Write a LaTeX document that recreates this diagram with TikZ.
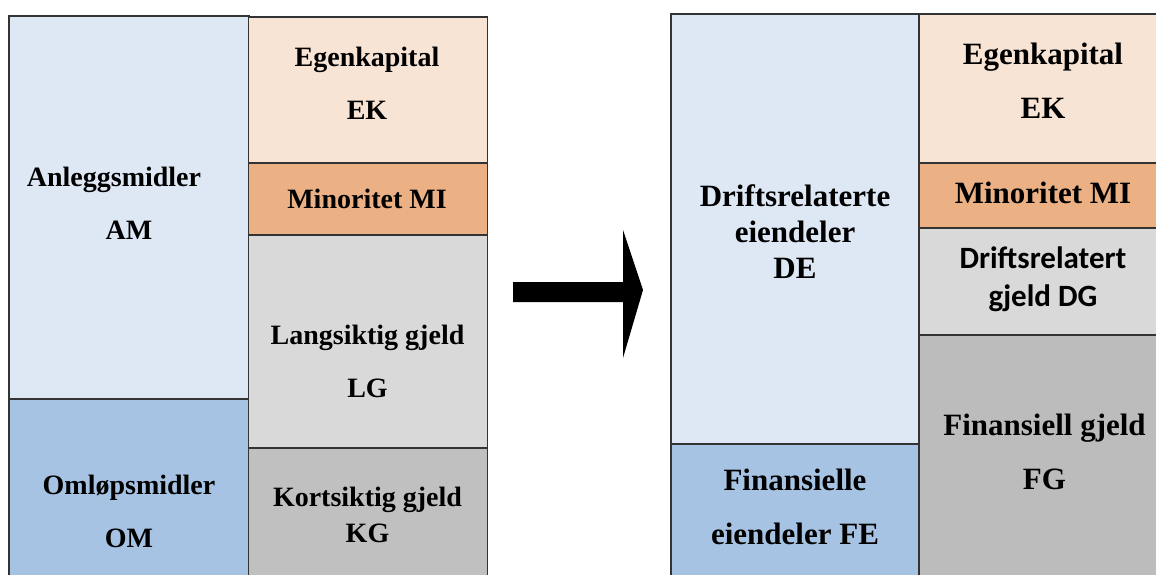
\documentclass[tikz,border=0pt]{standalone}
\usepackage{fontspec}
\setmainfont{Liberation Serif}
\newfontfamily\calibfont{Carlito}
\usetikzlibrary{positioning}
\definecolor{amblue}{HTML}{DEE7F4}
\definecolor{omblue}{HTML}{A6C3E3}
\definecolor{ekpeach}{HTML}{F8E4D5}
\definecolor{miorange}{HTML}{EBB084}
\definecolor{lggray}{HTML}{D9D9D9}
\definecolor{kggray}{HTML}{C0C0C0}

\begin{document}
\begin{tikzpicture}[
  x=1pt, y=-1pt,
  cell/.style={draw=black!80, line width=1.2pt, inner sep=0pt, outer sep=0pt},
  lcell/.style={cell, minimum width=239pt},
  rcell/.style={cell, minimum width=248pt},
  lab/.style={font=\fontsize{28}{53}\selectfont\bfseries, align=center},
  labtight/.style={font=\fontsize{28}{36}\selectfont\bfseries, align=center},
  rlab/.style={font=\fontsize{31}{54}\selectfont\bfseries, align=center},
  rlabtight/.style={font=\fontsize{31}{36}\selectfont\bfseries, align=center},
]
\useasboundingbox (0,0) rectangle (1156,575);
\clip (0,0) rectangle (1156,575);
% before: assets
\node[cell, fill=amblue, minimum width=240pt, minimum height=383pt] (am) at (129,207.5) {};
\node[cell, fill=omblue, minimum width=240pt, minimum height=191pt, below=0pt of am] (om) {};
% before: equity and debt
\node[lcell, fill=ekpeach, minimum height=146pt] (ek) at (368,90) {};
\node[lcell, fill=miorange, minimum height=72pt, below=0pt of ek] (mi) {};
\node[lcell, fill=lggray, minimum height=213pt, below=0pt of mi] (lg) {};
\node[lcell, fill=kggray, minimum height=142pt, below=0pt of lg] (kg) {};
% after: assets
\node[rcell, fill=amblue, minimum height=430pt] (de) at (795,229) {};
\node[rcell, fill=omblue, minimum height=146pt, below=0pt of de] (fe) {};
% after: equity and debt
\node[rcell, fill=ekpeach, minimum height=149pt] (rek) at (1043,88.5) {};
\node[rcell, fill=miorange, minimum height=65pt, below=0pt of rek] (rmi) {};
\node[rcell, fill=lggray, minimum height=107pt, below=0pt of rmi] (dg) {};
\node[rcell, fill=kggray!98!black, minimum height=255pt, below=0pt of dg] (fg) {};
% labels, left
\node[lab] (amlab) at (114,203.5) {Anleggsmidler\\\hspace*{30pt}AM};
\node[lab] (omlab) at (129,511.5) {Omløpsmidler\\OM};
\node[lab] (eklab) at (367,83.5) {Egenkapital\\EK};
\node[lab] (milab) at (367,199) {Minoritet MI};
\node[lab] (lglab) at (367.5,361.5) {Langsiktig gjeld\\LG};
\node[labtight] (kglab) at (367.5,515) {Kortsiktig gjeld\\KG};
% labels, right
\node[rlabtight] (delab) at (795,232) {Driftsrelaterte\\eiendeler\\DE};
\node[rlab] (felab) at (795,506.5) {Finansielle\\eiendeler FE};
\node[rlab] (reklab) at (1043,80.5) {Egenkapital\\EK};
\node[rlab] (rmilab) at (1043,193) {Minoritet MI};
\node[rlabtight, font=\calibfont\fontsize{31}{38}\selectfont\bfseries] (dglab) at (1043,279) {Driftsrelatert\\gjeld DG};
\node[rlab] (fglab) at (1044.5,451.5) {Finansiell gjeld\\FG};
% big arrow
\fill[black] (513,282) -- (623,282) -- (623,230) -- (643,290)
  -- (623,358) -- (623,302) -- (513,302) -- cycle;
\end{tikzpicture}
\end{document}
